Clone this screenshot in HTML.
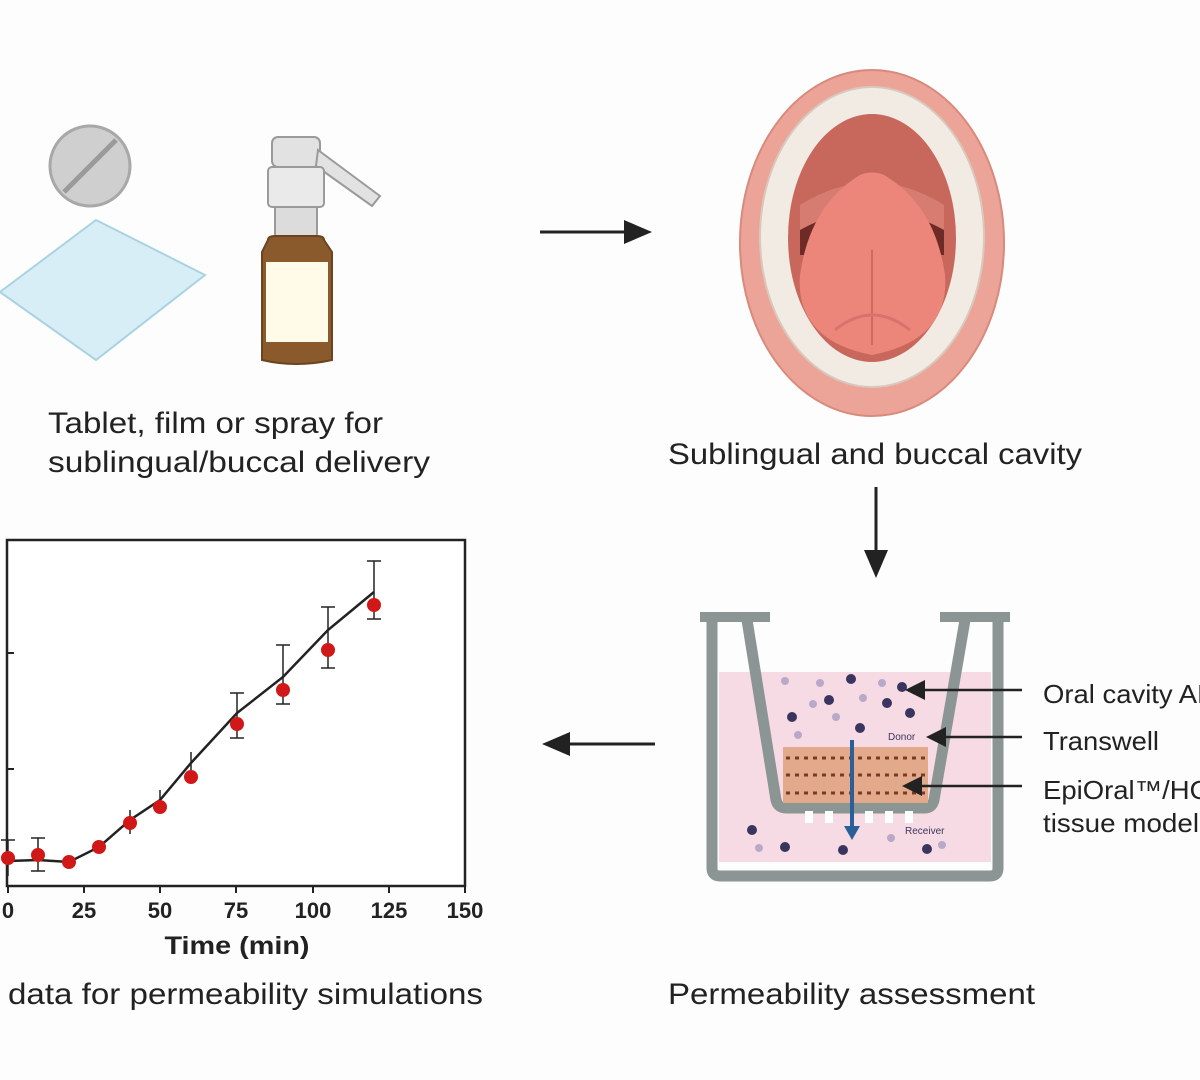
<!DOCTYPE html>
<html><head><meta charset="utf-8"><style>
body{margin:0;background:#fff;}
svg{display:block}
text{font-family:"Liberation Sans",sans-serif;fill:#222}
</style></head><body>
<svg width="1200" height="1080" viewBox="0 0 1200 1080">
<rect width="1200" height="1080" fill="#fdfdfd"/>
<!-- film -->
<polygon points="0,292 96,220 205,275 96,360" fill="#d8eef6" stroke="#a9d3e3" stroke-width="2"/>
<!-- tablet -->
<circle cx="90" cy="166" r="40" fill="#cfcfcf" stroke="#a8a8a8" stroke-width="3"/>
<line x1="64" y1="192" x2="116" y2="140" stroke="#9a9a9a" stroke-width="5"/>
<!-- spray -->
<rect x="272" y="137" width="48" height="30" rx="6" fill="#e2e2e2" stroke="#9a9a9a" stroke-width="2"/>
<polygon points="318,150 380,196 372,206 316,166" fill="#e2e2e2" stroke="#9a9a9a" stroke-width="2"/>
<rect x="268" y="167" width="56" height="40" rx="4" fill="#eaeaea" stroke="#9a9a9a" stroke-width="2"/>
<rect x="275" y="207" width="42" height="30" fill="#dcdcdc" stroke="#9a9a9a" stroke-width="2"/>
<path d="M268,240 Q268,236 275,236 L317,236 Q324,236 324,240 L332,252 L332,360 Q296,368 262,360 L262,252 Z" fill="#8a5a2c" stroke="#6b4420" stroke-width="2"/>
<rect x="266" y="262" width="62" height="80" fill="#fffbe8"/>
<text x="48" y="433" font-size="30" textLength="335" lengthAdjust="spacingAndGlyphs">Tablet, film or spray for</text>
<text x="48" y="472" font-size="30" textLength="382" lengthAdjust="spacingAndGlyphs">sublingual/buccal delivery</text>
<!-- right arrow -->
<line x1="540" y1="232" x2="630" y2="232" stroke="#222" stroke-width="3"/>
<polygon points="652,232 624,220 624,244" fill="#222"/>
<!-- mouth -->
<ellipse cx="872" cy="243" rx="132" ry="173" fill="#eba497" stroke="#d88a7c" stroke-width="2"/>
<ellipse cx="872" cy="237" rx="112" ry="150" fill="#f1ebe4" stroke="#d9c9bd" stroke-width="2"/>
<ellipse cx="872" cy="238" rx="84" ry="124" fill="#c8685c"/>
<path d="M800,205 Q872,160 944,205 L944,250 L800,250 Z" fill="#d77c70"/>
<path d="M800,230 Q872,190 944,230 L944,255 L800,255 Z" fill="#6e2a24"/>
<path d="M860,175 Q872,170 884,175 Q935,205 945,275 Q950,340 872,355 Q795,340 800,275 Q810,205 860,175 Z" fill="#ec857a"/>
<line x1="872" y1="250" x2="872" y2="345" stroke="#cf6a60" stroke-width="2"/>
<path d="M835,330 Q872,300 910,330" fill="none" stroke="#d9736a" stroke-width="3"/>
<text x="668" y="464" font-size="30" textLength="414" lengthAdjust="spacingAndGlyphs">Sublingual and buccal cavity</text>
<!-- down arrow -->
<line x1="876" y1="487" x2="876" y2="556" stroke="#222" stroke-width="3"/>
<polygon points="876,578 864,550 888,550" fill="#222"/>
<!-- transwell -->
<rect x="719" y="672" width="272" height="190" fill="#f7dbe4"/>
<path d="M712,622 L712,868 Q712,876 720,876 L990,876 Q998,876 998,868 L998,622" fill="none" stroke="#8b9593" stroke-width="11"/>
<rect x="700" y="612" width="70" height="10" fill="#8b9593"/>
<rect x="940" y="612" width="70" height="10" fill="#8b9593"/>
<path d="M747,620 L776,800 Q778,808 786,808 L925,808 Q932,808 934,800 L965,620" fill="none" stroke="#8b9593" stroke-width="11"/>
<rect x="783" y="747" width="145" height="56" fill="#e2a98b"/>
<g stroke="#7a3a2a" stroke-width="3" stroke-dasharray="4,5">
<line x1="786" y1="758" x2="926" y2="758"/><line x1="786" y1="775" x2="926" y2="775"/><line x1="786" y1="793" x2="926" y2="793"/></g>
<g fill="#fff"><rect x="805" y="811" width="8" height="12"/><rect x="825" y="811" width="8" height="12"/><rect x="865" y="811" width="8" height="12"/><rect x="885" y="811" width="8" height="12"/><rect x="905" y="811" width="8" height="12"/></g>
<line x1="852" y1="740" x2="852" y2="830" stroke="#2b5f9a" stroke-width="4"/>
<polygon points="852,840 844,826 860,826" fill="#2b5f9a"/>
<g fill="#3a3560"><circle cx="851" cy="679" r="5"/><circle cx="829" cy="700" r="5"/><circle cx="887" cy="703" r="5"/><circle cx="792" cy="717" r="5"/><circle cx="910" cy="713" r="5"/><circle cx="860" cy="728" r="5"/><circle cx="752" cy="830" r="5"/><circle cx="785" cy="847" r="5"/><circle cx="843" cy="850" r="5"/><circle cx="927" cy="849" r="5"/><circle cx="902" cy="687" r="5"/></g>
<g fill="#b9a9c8"><circle cx="785" cy="681" r="4"/><circle cx="820" cy="683" r="4"/><circle cx="882" cy="683" r="4"/><circle cx="863" cy="698" r="4"/><circle cx="813" cy="704" r="4"/><circle cx="836" cy="717" r="4"/><circle cx="798" cy="735" r="4"/><circle cx="759" cy="848" r="4"/><circle cx="891" cy="838" r="4"/><circle cx="942" cy="845" r="4"/></g>
<text x="888" y="740" font-size="10" style="fill:#3a3560">Donor</text>
<text x="905" y="834" font-size="10" style="fill:#3a3560">Receiver</text>
<g stroke="#222" stroke-width="2.5"><line x1="920" y1="690" x2="1022" y2="690"/><line x1="940" y1="737" x2="1022" y2="737"/><line x1="915" y1="786" x2="1022" y2="786"/></g>
<polygon points="905,690 925,680 925,700" fill="#222"/>
<polygon points="926,737 946,727 946,747" fill="#222"/>
<polygon points="902,786 922,776 922,796" fill="#222"/>
<text x="1043" y="703" font-size="26" textLength="180" lengthAdjust="spacingAndGlyphs">Oral cavity API</text>
<text x="1043" y="750" font-size="26" textLength="116" lengthAdjust="spacingAndGlyphs">Transwell</text>
<text x="1043" y="799" font-size="26" textLength="168" lengthAdjust="spacingAndGlyphs">EpiOral™/HO</text>
<text x="1043" y="832" font-size="26" textLength="156" lengthAdjust="spacingAndGlyphs">tissue model</text>
<text x="668" y="1004" font-size="30" textLength="367" lengthAdjust="spacingAndGlyphs">Permeability assessment</text>
<!-- left arrow -->
<line x1="565" y1="744" x2="655" y2="744" stroke="#222" stroke-width="3"/>
<polygon points="542,744 570,732 570,756" fill="#222"/>
<!-- plot -->
<rect x="7" y="540" width="458" height="346" fill="#fff" stroke="#222" stroke-width="2.5"/>
<g stroke="#222" stroke-width="2"><line x1="7" y1="653" x2="14" y2="653"/><line x1="7" y1="769" x2="14" y2="769"/>
<line x1="84" y1="886" x2="84" y2="893"/><line x1="160" y1="886" x2="160" y2="893"/><line x1="236" y1="886" x2="236" y2="893"/><line x1="313" y1="886" x2="313" y2="893"/><line x1="389" y1="886" x2="389" y2="893"/><line x1="465" y1="886" x2="465" y2="893"/><line x1="8" y1="886" x2="8" y2="893"/></g>
<g stroke="#222" stroke-width="1.5">
<line x1="8" y1="840" x2="8" y2="876"/><line x1="38" y1="838" x2="38" y2="871"/><line x1="130" y1="810" x2="130" y2="834"/><line x1="160" y1="790" x2="160" y2="810"/><line x1="191" y1="752" x2="191" y2="780"/><line x1="237" y1="693" x2="237" y2="738"/><line x1="283" y1="645" x2="283" y2="704"/><line x1="328" y1="607" x2="328" y2="668"/><line x1="374" y1="561" x2="374" y2="619"/>
<line x1="1" y1="840" x2="15" y2="840"/><line x1="31" y1="838" x2="45" y2="838"/><line x1="31" y1="871" x2="45" y2="871"/><line x1="230" y1="738" x2="244" y2="738"/><line x1="276" y1="704" x2="290" y2="704"/><line x1="321" y1="668" x2="335" y2="668"/><line x1="367" y1="619" x2="381" y2="619"/><line x1="367" y1="561" x2="381" y2="561"/><line x1="321" y1="607" x2="335" y2="607"/><line x1="276" y1="645" x2="290" y2="645"/><line x1="230" y1="693" x2="244" y2="693"/></g>
<polyline points="8,861 38,860 69,862 99,847 130,820 160,800 191,763 237,713 283,677 328,630 374,592" fill="none" stroke="#222" stroke-width="2.5"/>
<g fill="#d01818"><circle cx="8" cy="858" r="7"/><circle cx="38" cy="855" r="7"/><circle cx="69" cy="862" r="7"/><circle cx="99" cy="847" r="7"/><circle cx="130" cy="823" r="7"/><circle cx="160" cy="807" r="7"/><circle cx="191" cy="777" r="7"/><circle cx="237" cy="724" r="7"/><circle cx="283" cy="690" r="7"/><circle cx="328" cy="650" r="7"/><circle cx="374" cy="605" r="7"/></g>
<g font-size="22" font-weight="bold" text-anchor="middle">
<text x="8" y="918">0</text><text x="84" y="918">25</text><text x="160" y="918">50</text><text x="236" y="918">75</text><text x="313" y="918">100</text><text x="389" y="918">125</text><text x="465" y="918">150</text>
<text x="237" y="954" font-size="25" textLength="145" lengthAdjust="spacingAndGlyphs">Time (min)</text></g>
<text x="8" y="1004" font-size="30" textLength="475" lengthAdjust="spacingAndGlyphs">data for permeability simulations</text>
</svg>
</body></html>
